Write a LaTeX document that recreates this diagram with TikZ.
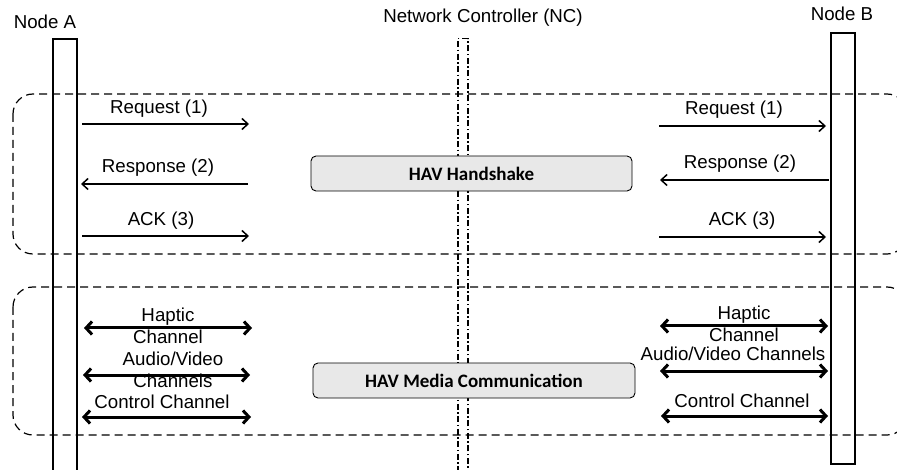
\documentclass[tikz,border=0pt]{standalone}
\usepackage{fontspec}
\setmainfont{Liberation Sans}
\newfontfamily\calfont{Carlito}
\usetikzlibrary{arrows.meta}
\begin{document}
\begin{tikzpicture}[x=1pt,y=-1pt,
  lbl/.style={font=\fontsize{18.7}{22}\selectfont, inner sep=0, align=center},
  lifebox/.style={draw, line width=1.6pt, inner sep=0, anchor=north west},
  ncbox/.style={draw, line width=1.5pt, inner sep=0, anchor=north west, dash pattern=on 6pt off 2.5pt on 1.5pt off 2.5pt},
  phase/.style={draw, line width=1.2pt, dash pattern=on 8pt off 5pt, rounded corners=20pt},
  stagebox/.style={draw, line width=0.9pt, fill=gray!18, rounded corners=5pt, inner sep=0, font=\calfont\bfseries\fontsize{19}{21}\selectfont},
  msg/.style={line width=1.5pt, -{Straight Barb[length=6pt,width=11pt]}},
  chan/.style={line width=3pt, {Straight Barb[length=6pt,width=13pt]}-{Straight Barb[length=6pt,width=13pt]}}
]
\useasboundingbox (0,0) rectangle (897,470);
\begin{scope}
\clip (0,0) rectangle (897,470);
% phase frames
\draw[phase] (13,94) rectangle (907,254);
\draw[phase] (13,287) rectangle (907,435);
% lifelines
\node[lifebox, minimum width=24pt, minimum height=440pt] (A) at (52,38) {};
\node[lifebox, minimum width=24pt, minimum height=431pt] (B) at (830,32) {};
\node[ncbox, minimum width=10pt, minimum height=440pt] (NC) at (457,38) {};
\end{scope}
% titles
\node[lbl] (tA) at (45,22) {Node A};
\node[lbl] (tNC) at (483,18) {Network Controller (NC)};
\node[lbl] (tB) at (842,14) {Node B};
% stage boxes
\node[stagebox, minimum width=321pt, minimum height=35pt] (hs) at (471.5,173.5) {HAV Handshake};
\node[stagebox, minimum width=322pt, minimum height=35pt] (mc) at (474,380.5) {HAV Media Communication};
% coordinates for handshake arrows
\coordinate (a1s) at (82,124); \coordinate (a1e) at (249,124);
\coordinate (a2s) at (248,184); \coordinate (a2e) at (81,184);
\coordinate (a3s) at (82,236); \coordinate (a3e) at (249,236);
\coordinate (b1s) at (659,126); \coordinate (b1e) at (826,126);
\coordinate (b2s) at (829,180); \coordinate (b2e) at (660,180);
\coordinate (b3s) at (659,237); \coordinate (b3e) at (826,237);
\draw[msg] (a1s) -- (a1e);
\draw[msg] (a2s) -- (a2e);
\draw[msg] (a3s) -- (a3e);
\draw[msg] (b1s) -- (b1e);
\draw[msg] (b2s) -- (b2e);
\draw[msg] (b3s) -- (b3e);
\node[lbl] (la1) at (159,109) {Request (1)};
\node[lbl] (la2) at (158,168) {Response (2)};
\node[lbl] (la3) at (161,221) {ACK (3)};
\node[lbl] (lb1) at (734,110) {Request (1)};
\node[lbl] (lb2) at (740,164) {Response (2)};
\node[lbl] (lb3) at (742,221) {ACK (3)};
% media channels
\coordinate (c1s) at (84,328); \coordinate (c1e) at (252,328);
\coordinate (c2s) at (83,375); \coordinate (c2e) at (250,375);
\coordinate (c3s) at (82,417); \coordinate (c3e) at (251,417);
\coordinate (d1s) at (660,326); \coordinate (d1e) at (828,326);
\coordinate (d2s) at (660,371); \coordinate (d2e) at (828,371);
\coordinate (d3s) at (661,416); \coordinate (d3e) at (828,416);
\draw[chan] (c1s) -- (c1e);
\draw[chan] (c2s) -- (c2e);
\draw[chan] (c3s) -- (c3e);
\draw[chan] (d1s) -- (d1e);
\draw[chan] (d2s) -- (d2e);
\draw[chan] (d3s) -- (d3e);
\node[lbl] (lc1) at (168,326) {Haptic\\Channel};
\node[lbl] (lc2) at (173,370) {Audio/Video\\Channels};
\node[lbl] (lc3) at (162,402) {Control Channel};
\node[lbl] (ld1) at (744,324) {Haptic\\Channel};
\node[lbl] (ld2) at (733,354) {Audio/Video Channels};
\node[lbl] (ld3) at (742,401) {Control Channel};
\end{tikzpicture}
\end{document}
